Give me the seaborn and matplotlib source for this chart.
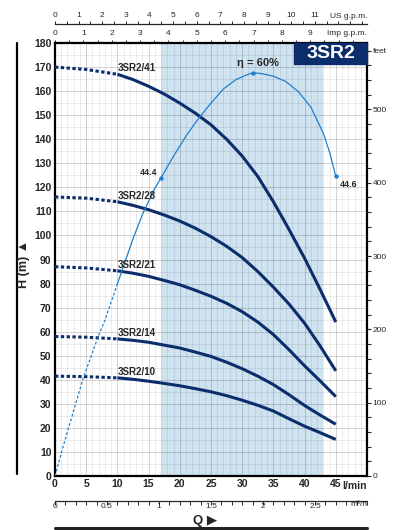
import numpy as np
import pandas as pd
import matplotlib
matplotlib.use("Agg")
import matplotlib.pyplot as plt
from matplotlib.lines import Line2D
from matplotlib.patches import Rectangle
import seaborn as sns

sns.set_style("white")
plt.rcParams['font.family'] = ['Liberation Sans', 'DejaVu Sans']

navy = '#0b2d6b'
eta_blue = '#1f80cf'

# flow in l/min, head in m
q = [0, 5, 10, 12.5, 15, 17.5, 20, 22.5, 25, 27.5, 30, 32.5, 35, 37.5, 40, 42.5, 45]
h_41 = [170, 169, 167, 164.8, 162, 158.8, 155, 150.8, 146, 140, 133, 124.5, 114, 102.5, 90.5, 77.5, 64]
h_28 = [116, 115.5, 114, 112.5, 110.7, 108.5, 106, 103, 99.5, 95.5, 90.8, 85, 78.5, 71.5, 63.5, 54, 43.7]
h_21 = [87, 86.5, 85.3, 84.3, 83, 81.3, 79.5, 77.2, 74.7, 71.8, 68.3, 64, 58.8, 52.5, 45.8, 39.5, 33]
h_14 = [58, 57.7, 57, 56.4, 55.6, 54.4, 53.2, 51.5, 49.7, 47.3, 44.6, 41.5, 38, 33.8, 29.3, 25.3, 21.5]
h_10 = [41.5, 41.3, 40.8, 40.2, 39.4, 38.5, 37.5, 36.3, 35, 33.4, 31.5, 29.4, 27, 23.8, 20.7, 18, 15.2]
models = ['3SR2/41', '3SR2/28', '3SR2/21', '3SR2/14', '3SR2/10']

# efficiency curve (%)
q_eta = [0, 1.3, 4.5, 6.9, 8, 10, 12.5, 14, 15, 16, 17, 19, 21, 23, 25, 27, 29, 31,
         31.7, 33, 35, 37, 39, 41, 43, 44, 45]
eta = [0, 4.4, 14.5, 20.7, 23.2, 28.6, 35.3, 38.9, 40.9, 42.8, 44.4, 47.6, 50.6, 53.2,
       55.5, 57.6, 59.0, 59.8, 60.0, 59.9, 59.5, 58.7, 57.2, 54.9, 51.0, 48.2, 44.6]
eta_marked = [17, 31.7, 45]
eta_scale = 167.6 / 60   # % -> m on the H axis

work_range = (17, 43)

df = pd.DataFrame({'q': q * 5,
                   'h': h_41 + h_28 + h_21 + h_14 + h_10,
                   'model': np.repeat(models, len(q))})
ef = pd.DataFrame({'q': q_eta, 'eta': eta})
ef['h'] = ef.eta * eta_scale

fig = plt.figure(figsize=(3.99, 5.30), dpi=100)
ax = fig.add_axes([55/399, 54/530, 312/399, 433/530])
ax.axvspan(*work_range, color='#cfe2f0', lw=0, zorder=0.2)

for m in models:
    d = df[df.model == m]
    sns.lineplot(data=d[d.q <= 10], x='q', y='h', ax=ax, color=navy, lw=2.2,
                 linestyle=(0, (1.1, 0.8)), sort=False, zorder=3)
    sns.lineplot(data=d[d.q >= 10], x='q', y='h', ax=ax, color=navy, lw=2.2,
                 sort=False, zorder=3, solid_capstyle='butt')
    h10 = d.loc[d.q == 10, 'h'].iloc[0]
    ax.text(10.1, h10 + 2.6, m, ha='left', va='center', fontsize=7,
            fontweight='bold', zorder=4)

sns.lineplot(data=ef[ef.q <= 10], x='q', y='h', ax=ax, color=eta_blue, lw=0.9,
             linestyle=(0, (2.2, 1.6)), sort=False, zorder=3)
sns.lineplot(data=ef[ef.q >= 10], x='q', y='h', ax=ax, color=eta_blue, lw=0.9,
             sort=False, zorder=3)
mk = ef[ef.q.isin(eta_marked)]
sns.scatterplot(data=mk, x='q', y='h', ax=ax, color=eta_blue, s=10, lw=0, zorder=4)

e_first, e_peak, e_last = mk.eta.tolist()
ax.text(16.4, e_first * eta_scale + 2, f'{e_first:.1f}', ha='right', va='center',
        fontsize=6.5, fontweight='bold')
ax.text(45.6, e_last * eta_scale - 3.5, f'{e_last:.1f}', ha='left', va='center',
        fontsize=6.5, fontweight='bold')
ax.text(32.6, e_peak * eta_scale + 4, f'η = {e_peak:.0f}%', ha='center', va='center',
        fontsize=8, fontweight='bold')

ax.set_xlim(0, 50)
ax.set_ylim(0, 180)
ax.set_xlabel('')
ax.set_ylabel('')
xt = np.arange(0, 50, 5)
ax.set_xticks(xt)
ax.set_xticklabels([str(v) for v in xt], fontweight='bold')
ax.set_xticks(np.arange(0, 51, 1), minor=True)
yt = np.arange(0, 181, 10)
ax.set_yticks(yt)
ax.set_yticklabels([str(v) for v in yt], fontweight='bold')
ax.set_yticks(np.arange(0, 181, 5), minor=True)
ax.grid(which='major', color='k', alpha=0.17, lw=0.7)
ax.grid(which='minor', color='k', alpha=0.08, lw=0.7)
ax.set_axisbelow(True)
ax.tick_params(which='both', length=0)
ax.tick_params(axis='both', which='major', labelsize=7.5, pad=2.5)
for s in ax.spines.values():
    s.set_visible(True)
    s.set_linewidth(1.6)
    s.set_color('k')
ax.text(50, -0.023, 'l/min', transform=ax.get_xaxis_transform(), ha='right',
        va='center', fontsize=7.5, fontweight='bold')

# 3SR2 badge
ax.add_patch(Rectangle((0.766, 0.9515), 0.234, 0.0485, transform=ax.transAxes,
                       color=navy, zorder=5, clip_on=False))
ax.text(0.883, 0.976, '3SR2', transform=ax.transAxes, ha='center', va='center',
        color='white', fontsize=14, fontweight='bold', zorder=6)

# feet on the right
axr = ax.twinx()
axr.set_ylim(0, 180 * 3.28084)
axr.set_yticks([0, 100, 200, 300, 400, 500, 580])
axr.set_yticklabels(['0', '100', '200', '300', '400', '500', 'feet'])
axr.set_yticks(np.arange(0, 590, 20), minor=True)
axr.tick_params(axis='y', which='both', right=True, length=3, width=0.8,
                labelsize=6, pad=1, direction='out')
for s in axr.spines.values():
    s.set_visible(False)

# secondary flow scales
imp = ax.secondary_xaxis('top', functions=(lambda x: x / 4.546, lambda x: x * 4.546))
imp.set_xticks(np.arange(0, 10, 1))
imp.set_xticks(np.arange(0, 11, 0.5), minor=True)
imp.tick_params(which='both', length=2.5, width=0.7, labelsize=6, pad=1.5, direction='out')
imp.spines['top'].set_visible(False)
ax.text(50, 1.023, 'Imp g.p.m.', transform=ax.get_xaxis_transform(), ha='right',
        va='center', fontsize=6)

us = ax.secondary_xaxis(1 + 19/433, functions=(lambda x: x / 3.785, lambda x: x * 3.785))
us.set_xticks(np.arange(0, 12, 1))
us.set_xticks(np.arange(0, 13.5, 0.5), minor=True)
us.tick_params(which='both', length=2.5, width=0.7, labelsize=6, pad=1, direction='out')
us.spines['top'].set_linewidth(0.9)
ax.text(50, 1.062, 'US g.p.m.', transform=ax.get_xaxis_transform(), ha='right',
        va='center', fontsize=6)

m3 = ax.secondary_xaxis(-24.5/433, functions=(lambda x: x * 0.06, lambda x: x / 0.06))
m3.set_xticks(np.arange(0, 3, 0.5))
m3.set_xticklabels(['0', '0.5', '1', '1.5', '2', '2.5'])
m3.set_xticks(np.arange(0, 3.01, 0.1), minor=True)
m3.tick_params(which='both', length=3, width=0.7, labelsize=6, pad=-1, direction='out')
m3.spines['bottom'].set_linewidth(0.9)
ax.text(50, -0.066, 'm³/h', transform=ax.get_xaxis_transform(), ha='right',
        va='center', fontsize=6)

fig.add_artist(Line2D([17/399, 17/399], [1 - 43/530, 1 - 474/530], color='k', lw=1.6))
fig.add_artist(Line2D([55/399, 367/399], [1 - 528/530, 1 - 528/530], color='#222222', lw=2.2))
fig.text(24/399, 1 - 264/530, 'H (m) ▲', rotation=90, ha='center', va='center',
         fontsize=9, fontweight='bold')
fig.text(205/399, 1 - 521/530, 'Q ▶', ha='center', va='center',
         fontsize=9.5, fontweight='bold')

fig.savefig('out.png', dpi=100)
